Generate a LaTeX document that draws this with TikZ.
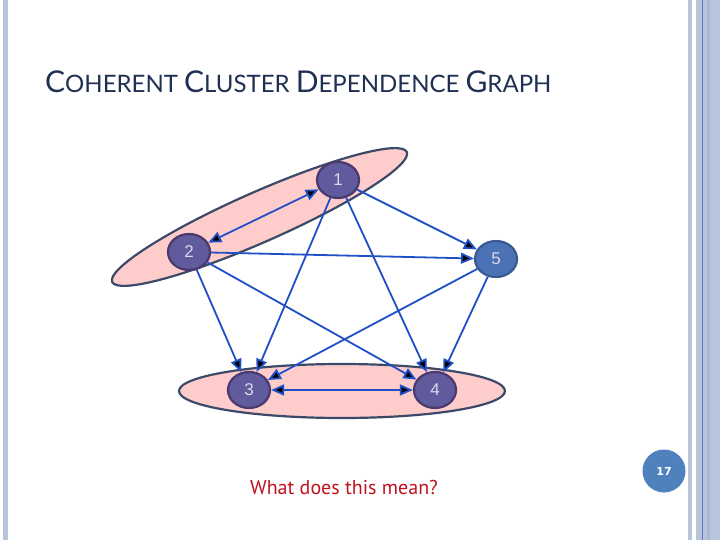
\documentclass[tikz,border=0pt]{standalone}
\usepackage{fontspec}
\setmainfont{Liberation Sans}
\newfontfamily\titlefont{Lato}
\newfontfamily\notefont{PT Sans}
\newfontfamily\pagefont{DejaVu Sans}
\usepackage{tikz}
\usetikzlibrary{automata, arrows.meta, shapes.geometric}

\definecolor{titlenavy}{HTML}{1F3052}
\definecolor{stripe}{HTML}{B7C4DC}
\definecolor{stripedark}{HTML}{A9B8D3}
\definecolor{stripeline}{HTML}{5A7AB0}
\definecolor{nodefill}{HTML}{5F5B9C}
\definecolor{nodeedge}{HTML}{4A3A6E}
\definecolor{sinkfill}{HTML}{4A72B4}
\definecolor{sinkedge}{HTML}{3A5A90}
\definecolor{numtext}{HTML}{DCD8F0}
\definecolor{clusterfill}{HTML}{FFCCCC}
\definecolor{clusteredge}{HTML}{3C4A6A}
\definecolor{depblue}{HTML}{1F50C8}
\definecolor{noteRed}{HTML}{C0121E}
\definecolor{pageblue}{HTML}{4F81BD}

\newcommand{\bigcapital}[1]{{\fontsize{30}{30}\selectfont #1}}

\begin{document}
\begin{tikzpicture}[
        x=1pt, y=-1pt,
        >={Triangle[length=13pt,width=11pt]},
        every state/.style={draw=nodeedge, line width=2.2pt, fill=nodefill, ellipse,
            minimum width=42pt, minimum height=36pt, inner sep=0pt, text=numtext,
            font=\fontsize{17}{17}\selectfont},
        cluster/.style={draw=clusteredge, line width=2.2pt, fill=clusterfill, ellipse, inner sep=0pt},
        dep/.style={->, draw=depblue, line width=1.8pt}
    ]
    \useasboundingbox (0,0) rectangle (720,540);
    \fill[white] (0,0) rectangle (720,540);

    % side stripes
    \fill[stripe] (3,0) rectangle (8,540);
    \fill[stripe] (688,0) rectangle (692,540);
    \fill[stripe] (696,0) rectangle (720,540);
    \fill[stripedark] (707,0) rectangle (710,540);
    \fill[stripeline] (702,0) rectangle (703.2,540);

    % title
    \node[anchor=base west, inner sep=0pt, text=titlenavy] (title) at (45,93)
        {\titlefont\fontsize{24}{24}\selectfont \bigcapital{C}OHERENT \bigcapital{C}LUSTER
         \bigcapital{D}EPENDENCE \bigcapital{G}RAPH};

    % clusters
    \node[cluster, minimum width=322pt, minimum height=50pt, rotate=23.8] (clusterA) at (259.5,217) {};
    \node[cluster, minimum width=326pt, minimum height=54pt] (clusterB) at (342,391) {};

    % vertices
    \node[state] (n1) at (338,180) {1};
    \node[state] (n2) at (189,252) {2};
    \node[state, fill=sinkfill, draw=sinkedge] (n5) at (496,259) {5};
    \node[state] (n3) at (249,390) {3};
    \node[state] (n4) at (435,390) {4};

    \path[dep]
        (n1) edge[<->] (n2)
        (n1) edge (n5)
        (n1) edge (n3)
        (n1) edge (n4)
        (n2) edge (n5)
        (n2) edge (n3)
        (n2) edge (n4)
        (n5) edge (n3)
        (n5) edge (n4)
        (n3) edge[<->] (n4);

    \node[anchor=base west, inner sep=0pt, text=noteRed, font=\notefont\fontsize{20}{20}\selectfont]
        (question) at (250,494) {What does this mean?};

    \node[circle, fill=pageblue, minimum size=43pt, inner sep=0pt, text=white,
        font=\pagefont\bfseries\fontsize{11}{11}\selectfont] (page) at (664,471) {17};
\end{tikzpicture}
\end{document}
